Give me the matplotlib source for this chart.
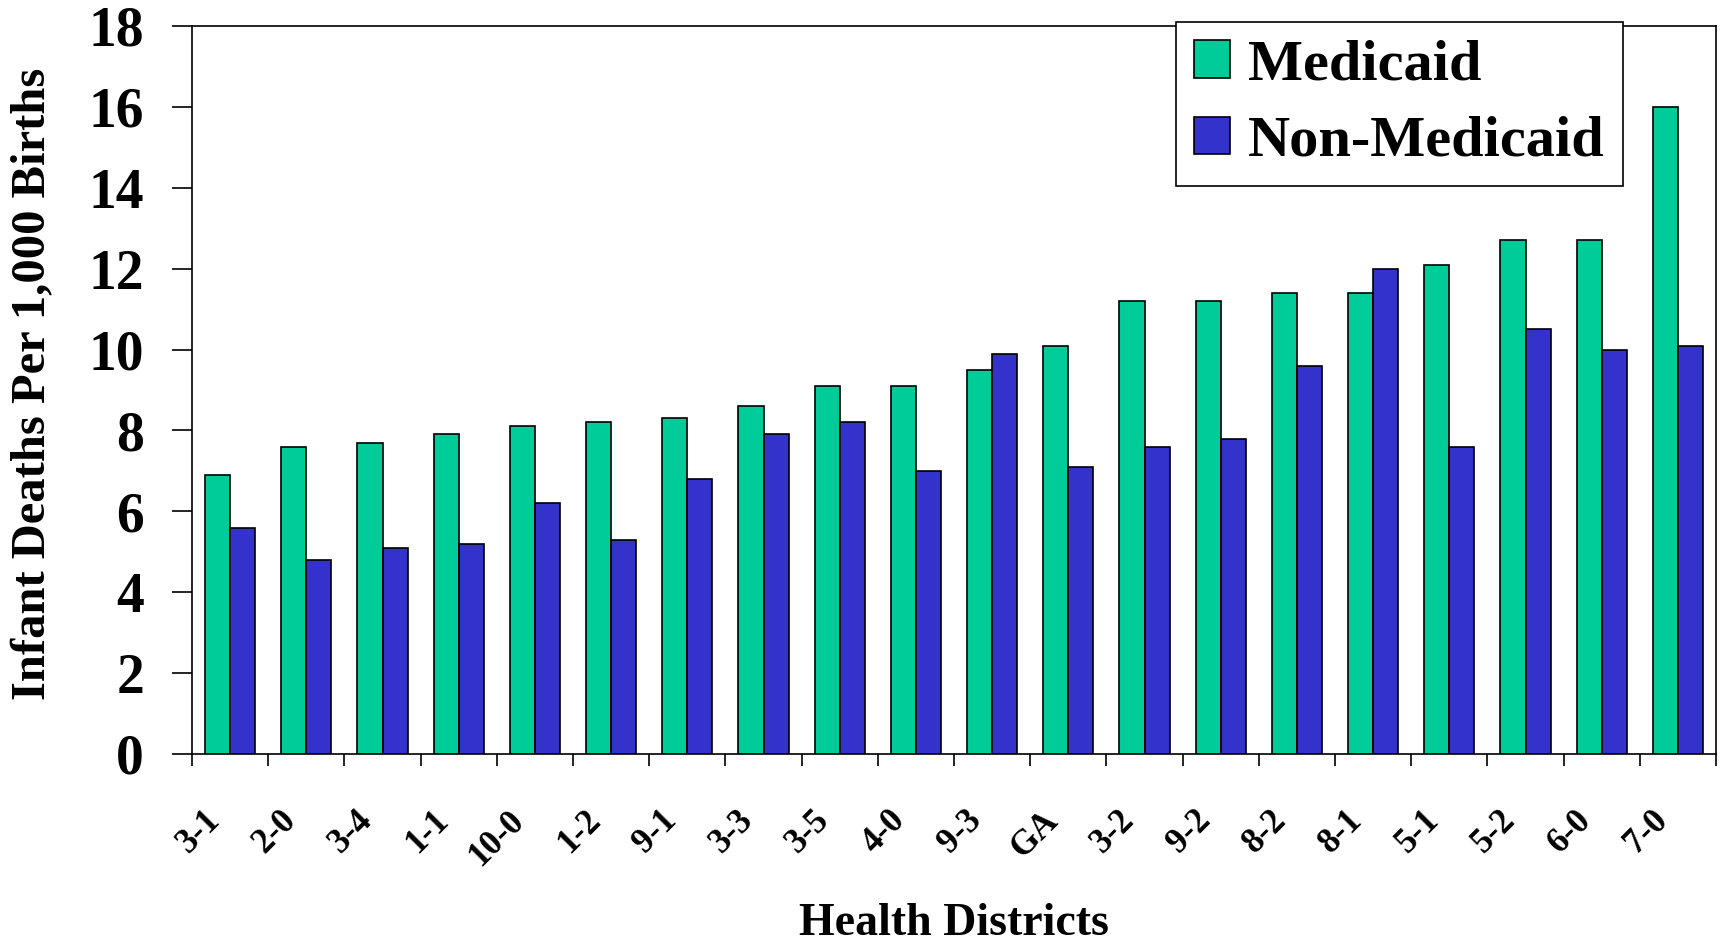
import numpy as np
import matplotlib
matplotlib.use("Agg")
import matplotlib.pyplot as plt
import matplotlib.transforms as mtransforms

matplotlib.rcParams["font.family"] = ["Liberation Serif", "DejaVu Serif"]
matplotlib.rcParams["font.weight"] = "bold"

districts = ["3-1", "2-0", "3-4", "1-1", "10-0", "1-2", "9-1", "3-3", "3-5", "4-0",
             "9-3", "GA", "3-2", "9-2", "8-2", "8-1", "5-1", "5-2", "6-0", "7-0"]
medicaid = [6.9, 7.6, 7.7, 7.9, 8.1, 8.2, 8.3, 8.6, 9.1, 9.1,
            9.5, 10.1, 11.2, 11.2, 11.4, 11.4, 12.1, 12.7, 12.7, 16.0]
non_medicaid = [5.6, 4.8, 5.1, 5.2, 6.2, 5.3, 6.8, 7.9, 8.2, 7.0,
                9.9, 7.1, 7.6, 7.8, 9.6, 12.0, 7.6, 10.5, 10.0, 10.1]

W, H = 1723, 944
fig = plt.figure(figsize=(W / 100, H / 100), dpi=100)
ax = fig.add_axes([192 / W, 1 - 754 / H, (1716 - 192) / W, (754 - 26) / H])

x = np.arange(len(districts))
bw = 0.33
ax.bar(x - bw / 2, medicaid, bw, color="#00CC99", edgecolor="black", linewidth=1.2,
       label="Medicaid", zorder=3)
ax.bar(x + bw / 2, non_medicaid, bw, color="#3333CC", edgecolor="black", linewidth=1.2,
       label="Non-Medicaid", zorder=3)

ax.set_xlim(-0.5, len(districts) - 0.5)
ax.set_ylim(0, 18)
ax.set_yticks(range(0, 19, 2))
ax.tick_params(axis="y", length=14.5, width=1.2, pad=20, labelsize=40)
for lab in ax.get_yticklabels():
    lab.set_fontweight("bold")

# tick marks at group boundaries, labels at centres
ax.set_xticks(np.arange(-0.5, len(districts), 1.0), minor=True)
ax.set_xticks(x)
ax.set_xticklabels(districts, rotation=45, ha="right", rotation_mode="anchor",
                   fontsize=25, fontweight="bold")
ax.tick_params(axis="x", which="major", length=0, pad=36)
ax.tick_params(axis="x", which="minor", length=8.5, width=1.2)
shift = mtransforms.ScaledTranslation(-27 / 100, 0, fig.dpi_scale_trans)
for lab in ax.get_xticklabels():
    lab.set_transform(lab.get_transform() + shift)

for s in ax.spines.values():
    s.set_linewidth(1.2)

fig.text(33 / W, 1 - 384 / H, "Infant Deaths Per 1,000 Births", rotation=90,
         ha="center", va="center", fontsize=35, fontweight="bold")
fig.text(954 / W, 1 - 924 / H, "Health Districts", ha="center", va="center",
         fontsize=33, fontweight="bold")

leg = ax.legend(loc="upper left", bbox_to_anchor=(1176 / W, 1 - 22 / H),
                bbox_transform=fig.transFigure, borderaxespad=0, fontsize=42,
                fancybox=False, framealpha=1, edgecolor="black",
                handlelength=0.62, handleheight=0.62, handletextpad=0.32,
                borderpad=0.3, labelspacing=0.42)
leg.get_frame().set_linewidth(1.2)
leg.set_zorder(5)

fig.savefig("out.png", dpi=100)
